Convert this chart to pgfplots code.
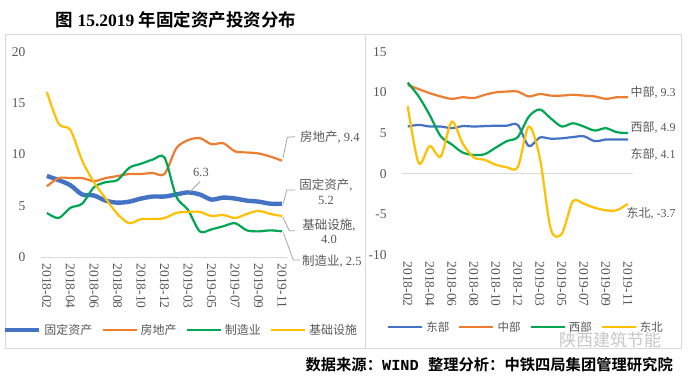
\documentclass[border=0pt]{standalone}
\usepackage{pgfplots}
\pgfplotsset{compat=1.18}
\usepackage{fontspec}
\setmainfont{Liberation Serif}
\setmonofont{Liberation Mono}
\newfontfamily\cjk{Noto Sans CJK SC}
\newfontfamily\cjkb{Noto Sans CJK SC Bold}
\definecolor{cblue}{HTML}{4472C4}
\definecolor{corange}{HTML}{ED7D31}
\definecolor{cgreen}{HTML}{00A651}
\definecolor{cyellow}{HTML}{FFC000}
\definecolor{tgray}{HTML}{595959}
\definecolor{bgray}{HTML}{D9D9D9}
\definecolor{lgray}{HTML}{A6A6A6}
\pgfplotsset{
  mystyle/.style={
    scale only axis, clip=false,
    xmin=-0.5, xmax=20.5,
    axis line style={draw=none}, tick style={draw=none},
    xtick={0,2,...,20},
    xticklabels={2018-02,2018-04,2018-06,2018-08,2018-10,2018-12,2019-03,2019-05,2019-07,2019-09,2019-11},
    xticklabel style={rotate=-90, anchor=west, font=\fontsize{13.5}{13.5}\selectfont, text=tgray},
    xticklabel shift=3pt,
    yticklabel style={font=\fontsize{13.5}{13.5}\selectfont, text=tgray, xshift=-12pt},
    /pgf/number format/assume math mode=true,
    legend columns=4,
    legend image code/.code={\draw[##1] (0pt,0pt) -- (34pt,0pt);},
    legend style={draw=none, fill=none, anchor=center,
      font=\fontsize{12}{12}\selectfont\cjk, text=tgray,
      /tikz/every even column/.append style={column sep=7pt},
      /tikz/every odd column/.append style={column sep=1pt}},
    every axis plot/.append style={smooth, no marks, line width=2.2pt},
  }
}
\begin{document}
\begin{tikzpicture}
\useasboundingbox (0pt,0pt) rectangle (688pt,383pt);
\fill[white] (0pt,0pt) rectangle (688pt,383pt);
% frames
\draw[bgray, line width=0.8pt] (5pt,35pt) rectangle (681pt,349pt);
\draw[bgray, line width=0.8pt] (365pt,35pt) -- (365pt,349pt);
% title
\node[anchor=center, inner sep=0pt] at (176pt,363pt)
  {\fontsize{17.5}{17.5}\selectfont{\cjkb 图} \textbf{15.2019} {\cjkb 年固定资产投资分布}};
% source
\node[anchor=east, inner sep=0pt] at (673pt,18pt)
  {\fontsize{15.3}{15.3}\selectfont{\cjkb 数据来源：}{\ttfamily\bfseries WIND }{\cjkb 整理分析：中铁四局集团管理研究院}};
% watermark
\node[anchor=center, inner sep=0pt, text=black!22] at (610pt,43pt)
  {\fontsize{17}{17}\selectfont\cjk 陕西建筑节能};

% ---------------- left panel ----------------
\begin{axis}[mystyle,
  at={(41pt,126pt)}, anchor=south west,
  width=247pt, height=205pt,
  ymin=0, ymax=20, ytick={0,5,10,15,20},
  legend style={at={(0.567,-0.356)}},
]
\draw[bgray, line width=0.8pt] (axis cs:-0.5,0) -- (axis cs:20.5,0);
\addplot[cblue, line width=4.4pt] coordinates {
(0,7.9)(1,7.5)(2,7.0)(3,6.1)(4,6.0)(5,5.5)(6,5.3)(7,5.4)(8,5.7)(9,5.9)(10,5.9)
(11,6.1)(12,6.3)(13,6.1)(14,5.6)(15,5.8)(16,5.7)(17,5.5)(18,5.4)(19,5.2)(20,5.2)};
\addlegendentry{固定资产}
\addplot[corange] coordinates {
(0,6.9)(1,7.7)(2,7.7)(3,7.7)(4,7.4)(5,7.7)(6,7.9)(7,8.1)(8,8.1)(9,8.2)(10,8.1)
(11,10.6)(12,11.4)(13,11.6)(14,11.0)(15,11.1)(16,10.3)(17,10.2)(18,10.1)(19,9.8)(20,9.4)};
\addlegendentry{房地产}
\addplot[cgreen] coordinates {
(0,4.3)(1,3.8)(2,4.8)(3,5.2)(4,6.8)(5,7.3)(6,7.5)(7,8.7)(8,9.1)(9,9.5)(10,9.7)
(11,5.9)(12,4.6)(13,2.5)(14,2.7)(15,3.0)(16,3.3)(17,2.6)(18,2.5)(19,2.6)(20,2.5)};
\addlegendentry{制造业}
\addplot[cyellow] coordinates {
(0,16.1)(1,13.0)(2,12.4)(3,9.4)(4,7.3)(5,5.7)(6,4.2)(7,3.3)(8,3.7)(9,3.7)(10,3.8)
(11,4.3)(12,4.4)(13,4.4)(14,4.0)(15,4.1)(16,3.8)(17,4.2)(18,4.5)(19,4.2)(20,4.0)};
\addlegendentry{基础设施}
\end{axis}

% left annotations
\begin{scope}[lgray, line width=0.8pt]
\draw (190pt,191.3pt) -- (200pt,201.3pt);
\draw (283pt,224.7pt) -- (287.3pt,245.7pt) -- (295pt,246.3pt);
\draw (283.3pt,179.7pt) -- (286.7pt,193pt) -- (295pt,193pt);
\draw (282.7pt,166.3pt) -- (289.3pt,152.3pt) -- (295pt,152.3pt);
\draw (283.3pt,150.3pt) -- (293.3pt,123pt) -- (300pt,123pt);
\end{scope}
\begin{scope}[every node/.style={text=tgray, inner sep=0pt, font=\fontsize{12.5}{14.5}\selectfont}]
\node[anchor=center] at (201pt,210.3pt) {6.3};
\node[anchor=west] at (300pt,246pt) {{\cjk 房地产}, 9.4};
\node[anchor=center, align=center] at (326pt,191pt) {{\cjk 固定资产}, \\ 5.2};
\node[anchor=center, align=center] at (329pt,151.7pt) {{\cjk 基础设施}, \\ 4.0};
\node[anchor=west] at (302pt,121.3pt) {{\cjk 制造业}, 2.5};
\end{scope}

% ---------------- right panel ----------------
\begin{axis}[mystyle,
  at={(402.2pt,128pt)}, anchor=south west,
  width=231.1pt, height=203.3pt,
  ymin=-10, ymax=15, ytick={-10,-5,0,5,10,15},
  legend style={at={(0.536,-0.354)}, font=\fontsize{11.5}{11.5}\selectfont\cjk},
]
\draw[bgray, line width=0.8pt] (axis cs:-0.5,0) -- (axis cs:20.5,0);
\addplot[cblue] coordinates {
(0,5.8)(1,6.0)(2,5.8)(3,5.8)(4,5.6)(5,5.85)(6,5.8)(7,5.85)(8,5.9)(9,5.9)(10,6.0)
(11,3.4)(12,4.45)(13,4.3)(14,4.35)(15,4.5)(16,4.6)(17,4.0)(18,4.2)(19,4.2)(20,4.2)};
\addlegendentry{东部}
\addplot[corange] coordinates {
(0,10.9)(1,10.4)(2,9.9)(3,9.5)(4,9.2)(5,9.4)(6,9.3)(7,9.7)(8,10.0)(9,10.1)(10,10.1)
(11,9.5)(12,9.8)(13,9.6)(14,9.6)(15,9.7)(16,9.6)(17,9.5)(18,9.2)(19,9.4)(20,9.4)};
\addlegendentry{中部}
\addplot[cgreen] coordinates {
(0,11.2)(1,9.5)(2,7.2)(3,4.6)(4,3.6)(5,2.6)(6,2.3)(7,2.4)(8,3.2)(9,4.0)(10,4.5)
(11,7.0)(12,7.9)(13,6.8)(14,5.8)(15,6.2)(16,5.8)(17,5.3)(18,5.6)(19,5.1)(20,5.0)};
\addlegendentry{西部}
\addplot[cyellow] coordinates {
(0,8.3)(1,1.3)(2,3.4)(3,2.1)(4,6.4)(5,3.7)(6,2.0)(7,1.7)(8,1.1)(9,0.8)(10,0.8)
(11,5.8)(12,2.0)(13,-6.8)(14,-7.4)(15,-3.4)(16,-3.7)(17,-4.2)(18,-4.5)(19,-4.5)(20,-3.7)};
\addlegendentry{东北}
\end{axis}

% right annotations
\begin{scope}[every node/.style={text=tgray, inner sep=0pt, anchor=west, font=\fontsize{12}{12}\selectfont}]
\node at (630.5pt,290.3pt) {{\cjk 中部}, 9.3};
\node at (630.5pt,255.7pt) {{\cjk 西部}, 4.9};
\node at (630.5pt,229pt) {{\cjk 东部}, 4.1};
\node at (626.5pt,169.7pt) {{\cjk 东北}, -3.7};
\end{scope}
\end{tikzpicture}
\end{document}
